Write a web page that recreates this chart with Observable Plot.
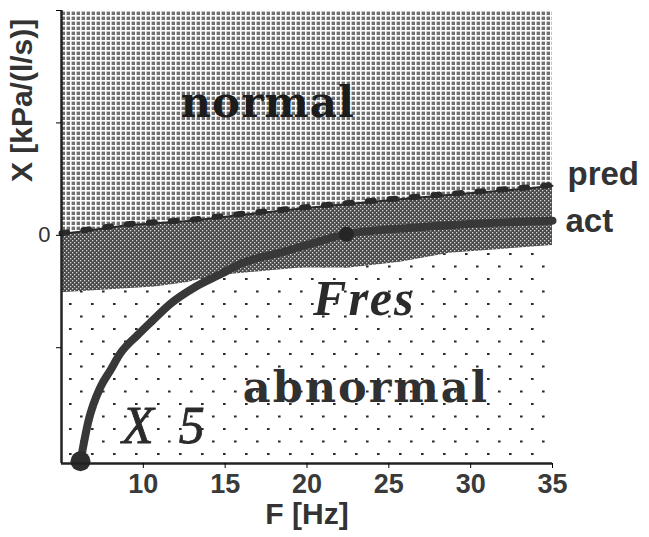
<!DOCTYPE html>
<html><head><meta charset="utf-8">
<script src="https://cdn.jsdelivr.net/npm/d3@7"></script>
<script src="https://cdn.jsdelivr.net/npm/@observablehq/plot@0.6"></script>
<style>body{margin:0;background:#fff}</style>
</head><body>
<svg width="0" height="0" style="position:absolute">
<defs>
<pattern id="grid" width="5" height="5" patternUnits="userSpaceOnUse">
 <rect width="5" height="5" fill="#707070"/>
 <rect x="0" y="0" width="1.6" height="5" fill="#fff"/>
 <rect x="0" y="0" width="5" height="1.6" fill="#fff"/>
</pattern>
<pattern id="check" width="4" height="4" patternUnits="userSpaceOnUse">
 <rect width="4" height="4" fill="#4a4a4a"/>
 <rect x="0" y="0" width="1.3" height="1.3" fill="#d8d8d8"/>
 <rect x="2" y="2" width="1.3" height="1.3" fill="#d8d8d8"/>
</pattern>
<pattern id="dots" width="22" height="25" patternUnits="userSpaceOnUse">
 <rect width="22" height="25" fill="#fff"/>
 <rect x="3" y="3" width="2.6" height="2" fill="#2a2a2a"/>
 <rect x="14" y="15.5" width="2.6" height="2" fill="#2a2a2a"/>
</pattern>
</defs></svg>
<div id="chart"></div>
<script>
// Predicted reactance (upper limit of dark band)
const predF = [5, 9, 13, 15.9, 21.2, 27.9, 33.8, 35];
const predX = [0.01, 0.09, 0.13, 0.18, 0.26, 0.35, 0.42, 0.44];
// Lower limit of normal band
const lowF = [5, 10.7, 12.7, 14.4, 19.6, 22.6, 25.7, 28.7, 35];
const lowX = [-0.51, -0.46, -0.42, -0.36, -0.29, -0.29, -0.24, -0.16, -0.09];
// Actual reactance curve
const actF = [6.16, 6.65, 7.38, 7.99, 8.6, 9.63, 10.55, 11.65, 13.17, 14.8, 16.0, 18.5, 20.6, 22.4, 26.7, 35];
const actX = [-2.01, -1.65, -1.35, -1.2, -1.05, -0.89, -0.76, -0.61, -0.46, -0.34, -0.25, -0.15, -0.06, 0.01, 0.07, 0.13];
// Highlighted points
const keyNames = ["X5", "Fres"];
const keyF = [6.16, 22.4];
const keyX = [-2.01, 0.01];
const xTicks = [10, 15, 20, 25, 30, 35];
const yTicks = [-1, 0, 1, 2];

const pred = predF.map((F, i) => ({F, X: predX[i]}));
const low = lowF.map((F, i) => ({F, X: lowX[i]}));
const act = actF.map((F, i) => ({F, X: actX[i]}));
const keys = keyNames.map((n, i) => ({n, F: keyF[i], X: keyX[i]}));

const yMin = -2.03, yMax = 2.0;
const sans = "Liberation Sans, Arial, sans-serif";

const chart = Plot.plot({
  width: 649, height: 537,
  marginLeft: 61, marginRight: 97, marginTop: 10, marginBottom: 74,
  x: {domain: [5, 35]},
  y: {domain: [yMin, yMax]},
  style: {background: "#fff"},
  marks: [
    Plot.areaY(pred, {x: "F", y1: "X", y2: yMax, fill: "url(#grid)"}),
    Plot.areaY(pred, {x: "F", y1: yMin, y2: "X", fill: "url(#check)"}),
    Plot.areaY(low, {x: "F", y1: yMin, y2: "X", fill: "url(#dots)"}),
    Plot.line(pred, {x: "F", y: "X", stroke: "#2a2a2a", strokeWidth: 2}),
    Plot.line(pred, {x: "F", y: "X", stroke: "#2a2a2a", strokeWidth: 6, strokeDasharray: "6 16", dy: -1}),
    Plot.line(act, {x: "F", y: "X", stroke: "#383838", strokeWidth: 8, curve: "monotone-x"}),
    Plot.dot(keys.filter(d => d.n === "X5"), {x: "F", y: "X", r: 10, fill: "#2e2e2e"}),
    Plot.dot(keys.filter(d => d.n === "Fres"), {x: "F", y: "X", r: 7.5, fill: "#262626"}),
    Plot.ruleX([5], {stroke: "#222", strokeWidth: 2.5}),
    Plot.ruleY([yMin], {stroke: "#222", strokeWidth: 2.5}),
    Plot.axisX({ticks: xTicks, tickSize: 5, tickPadding: 5, fontSize: 27, fontWeight: "bold", fontFamily: sans, fill: "#3a3a3a", label: null}),
    Plot.axisY({ticks: yTicks, tickSize: 5, tickPadding: 6, tickFormat: d => d === 0 ? "0" : "", fontSize: 22, fontFamily: sans, fill: "#333", label: null}),
    Plot.text(["F [Hz]"], {frameAnchor: "bottom", dy: 60, fontSize: 30, fontWeight: "bold", fontFamily: sans, fill: "#333"}),
    Plot.text(["X [kPa/(l/s)]"], {x: 5, y: 1.2, dx: -39, rotate: -90, fontSize: 30, fontWeight: "bold", fontFamily: sans, fill: "#333"}),
    Plot.text(["normal"], {x: 17.6, y: 1.17, fontSize: 42, fontWeight: "bold", fontFamily: "DejaVu Serif, serif", fill: "#1c1c1c"}),
    Plot.text(["abnormal"], {x: 23.6, y: -1.36, fontSize: 43, fontWeight: "bold", fontFamily: "DejaVu Serif, serif", fill: "#303030"}),
    Plot.text(["Fres"], {x: 23.5, y: -0.57, fontSize: 50, fontWeight: "bold", fontStyle: "italic", fontFamily: "Liberation Serif, serif", fill: "#2a2a2a"}),
    Plot.text(["X 5"], {x: 8.7, y: -1.7, textAnchor: "start", fontSize: 52, fontStyle: "italic", fontFamily: "Liberation Serif, serif", fill: "#2a2a2a", stroke: "#2a2a2a", strokeWidth: 0.8}),
    Plot.text(["pred"], {x: 35, y: 0.44, dx: 15, dy: -11, textAnchor: "start", fontSize: 33, fontWeight: "bold", fontFamily: sans, fill: "#333"}),
    Plot.text(["act"], {x: 35, y: 0.13, dx: 13, dy: 1, textAnchor: "start", fontSize: 33, fontWeight: "bold", fontFamily: sans, fill: "#333"})
  ]
});
const sel = t => d3.select(chart).selectAll("text").filter(function() { return this.textContent === t; });
sel("X 5").style("letter-spacing", "6px");
sel("Fres").style("letter-spacing", "2px");
sel("normal").style("letter-spacing", "1px");
sel("abnormal").style("letter-spacing", "2px");
document.getElementById("chart").appendChild(chart);
</script>
</body></html>
